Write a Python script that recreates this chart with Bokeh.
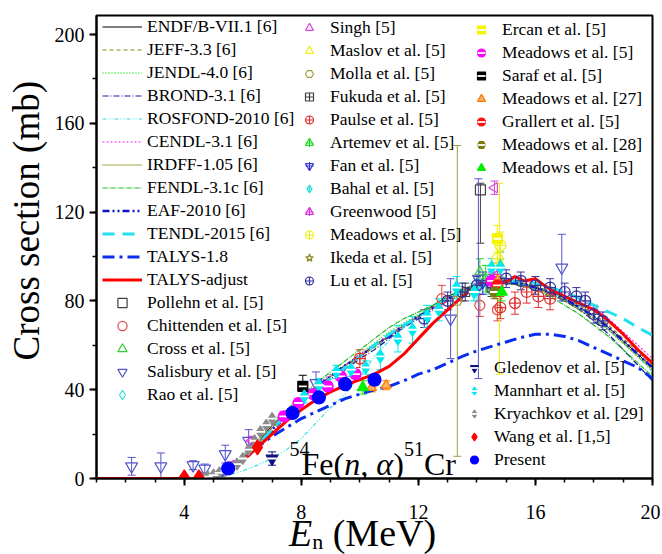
import math
from bokeh.plotting import figure
from bokeh.layouts import column
from bokeh.models import (Range1d, FixedTicker, Legend, LegendItem, Label, Title, Div,
                          Whisker, TeeHead, ColumnDataSource)
from bokeh.embed import file_html
from bokeh.resources import INLINE

FONT = "'Liberation Serif'"

# ---------------- evaluated / calculated excitation functions ----------------
E_eval = [4.4, 5.0, 5.5, 6.0, 6.5, 7.0, 7.5, 8.0, 8.5, 9.0, 9.5, 10.0, 10.5, 11.0, 11.5, 12.0,
          12.5, 13.0, 13.5, 14.0, 14.5, 15.0, 15.5, 16.0, 16.5, 17.0, 17.5, 18.0, 18.5, 19.0, 19.5, 20.0]
endf    = [0, 1.5, 4, 9, 16, 24, 30, 36, 41, 46, 51, 55, 60, 64, 69, 73, 78, 82, 85, 87, 89, 89, 88, 86, 84, 81, 77, 73, 68, 62, 56, 50]
jeff    = [0, 1.2, 3.5, 8.5, 15, 23, 29, 35, 41, 46, 50, 55, 59, 64, 69, 73, 77, 81, 85, 88, 89, 89, 88, 87, 84, 81, 78, 74, 69, 63, 57, 51]
jendl   = [0, 1, 3, 8, 15, 22, 29, 35, 41, 46, 51, 56, 61, 66, 70, 74, 78, 82, 85, 88, 89, 89, 88, 86, 83, 80, 76, 72, 67, 61, 55, 49]
brond   = [0, 1, 3.5, 8, 14, 21, 28, 34, 40, 45, 49, 54, 58, 63, 68, 72, 76, 80, 84, 86, 88, 88, 87, 86, 83, 80, 76, 71, 65, 58, 51, 44]
rosfond = [0, 0.5, 1.5, 3.5, 6, 9, 13, 18, 25, 32, 38, 46, 55, 62, 68, 73, 77, 81, 84, 87, 88, 88, 88, 86, 84, 81, 77, 73, 67, 61, 55, 48]
cendl   = [0, 1.5, 4, 9, 16, 23, 30, 36, 42, 47, 51, 56, 60, 65, 69, 73, 77, 81, 85, 88, 90, 90, 89, 88, 86, 84, 81, 77, 72, 66, 60, 54]
irdff   = [0, 1.3, 4, 9, 16, 23, 30, 36, 41, 46, 51, 55, 60, 64, 69, 73, 77, 81, 84, 87, 88, 88, 87, 85, 83, 80, 76, 72, 67, 61, 55, 49]
fendl   = [0, 1.5, 4.5, 10, 17, 25, 31, 37, 43, 48, 53, 58, 63, 68, 72, 75, 78, 82, 85, 87, 88, 88, 87, 85, 82, 78, 74, 69, 64, 58, 52, 46]
eaf     = [0, 1, 3.5, 8.5, 15, 22, 29, 35, 41, 46, 51, 55, 60, 64, 69, 73, 77, 81, 84, 87, 88, 88, 88, 86, 84, 81, 77, 73, 68, 62, 56, 50]
tendl   = [0, 1, 3.5, 8.5, 15, 22, 29, 35, 40, 45, 50, 55, 60, 65, 69, 73, 77, 81, 84, 86, 88, 89, 89, 88, 86, 84, 81, 78, 75, 72, 68, 64.5]

E_talys18 = [5.0, 5.5, 6.0, 6.5, 7.0, 7.5, 8.0, 8.5, 9.0, 9.5, 10.0, 10.5, 11.0, 11.5, 12.0, 12.5,
             13.0, 13.5, 14.0, 14.5, 15.0, 15.5, 16.0, 16.5, 17.0, 17.5, 18.0, 18.5, 19.0, 19.5, 20.0]
talys18   = [0, 2.5, 8, 14, 19, 23, 27, 30, 33, 36, 38, 40, 41.5, 44, 47, 49,
             52, 55, 57.5, 59.5, 61.5, 63.5, 65, 65, 64, 62, 59, 56, 53, 50, 45]

E_adj     = [1.0, 4.5, 5.0, 5.5, 6.0, 6.5, 7.0, 7.5, 8.0, 8.5, 9.0, 9.5, 10.0, 10.5, 11.0, 11.5, 12.0,
             12.5, 13.0, 13.5, 14.0, 14.3, 14.6, 15.0, 15.3, 15.6, 16.0, 16.3, 16.6, 17.0, 17.5, 18.0,
             18.5, 19.0, 19.5, 20.0]
talys_adj = [0, 0, 1, 3.5, 8, 14, 20, 26, 31, 35.5, 39, 42, 44.5, 47, 50.5, 56, 63,
             70, 76, 82, 87, 89, 90, 88.5, 91, 89, 90, 87, 84.5, 82, 79, 76,
             71, 65, 58, 52]

# ---------------- experimental data (E in MeV, sigma in mb, uncertainty in mb) ----------------
pollehn_E, pollehn_s, pollehn_lo, pollehn_hi = [14.12], [130], [24], [3]
chitt_E, chitt_s, chitt_err = [12.8, 14.1, 14.7], [81, 78, 76], [6, 5, 5]
cross_E, cross_s, cross_err = [14.1, 14.8], [93, 96], [6, 6]
salis_E = [2.2, 3.2, 4.3, 4.7, 5.4, 6.2, 8.5, 13.1, 14.05, 16.9]
salis_s = [5.5, 5.5, 6, 4.5, 11, 17, 43, 72, 90, 95]
salis_err = [4, 6, 2, 2, 4, 5, 5, 18, 45, 15]
rao_E, rao_s, rao_err = [14.4], [87], [4]
singh_E, singh_s, singh_err = [14.6], [131], [3]
maslov_E, maslov_s, maslov_err = [14.77], [90], [43]
molla_E, molla_s, molla_err = [13.33], [80], [70]
fukuda_E, fukuda_s, fukuda_err = [13.6, 14.5], [84, 86], [4, 4]
paulse_E = [10.0, 14.8, 15.3, 15.7, 16.1, 16.5]
paulse_s = [54, 77, 79, 84, 82, 81]
paulse_err = [4, 5, 5, 5, 5, 5]
artemev_E, artemev_s, artemev_err = [14.3], [90], [6]
fan_E, fan_s, fan_err = [14.2, 14.8], [88, 89], [5, 5]
bahal_E, bahal_s, bahal_err = [14.0], [85], [5]
greenwood_E, greenwood_s, greenwood_err = [5.6, 6.3, 14.7], [6, 17, 92], [1.5, 2, 5]
meadowsY_E, meadowsY_s, meadowsY_err = [14.7, 14.8], [99, 105], [8, 6]
ikeda_E, ikeda_s, ikeda_err = [14.6], [88], [4]
lu_E = [12.2, 13.0, 13.5, 14.0, 14.5, 15.0, 15.5, 16.0, 16.5, 17.0, 17.4, 17.7, 18.0, 18.3]
lu_s = [72, 80, 84, 87, 88, 90, 89, 87, 86, 84, 82, 80, 74, 71]
lu_err = [4, 4, 4, 4, 4, 4, 4, 4, 4, 4, 4, 4, 4, 4]
ercan_E, ercan_s, ercan_err = [14.7], [108], [6]
meadowsM_E = [7.4, 7.9, 8.4, 8.9, 9.35, 9.85, 14.5]
meadowsM_s = [28, 34, 38, 41.5, 46, 47, 89]
meadowsM_err = [2, 2, 2, 2, 2, 2, 4]
saraf_E, saraf_s, saraf_err = [8.05], [41.5], [5]
meadows27_E, meadows27_s, meadows27_err = [10.4, 10.9, 14.7], [41, 42, 89], [2, 2, 3]
grallert_E, grallert_s, grallert_err = [14.7], [87], [3]
meadows28_E, meadows28_s, meadows28_err = [14.6], [84], [3]
meadowsG_E, meadowsG_s, meadowsG_err = [10.1, 14.85], [41, 84], [3, 4]
gledenov_E, gledenov_s, gledenov_err = [7.0], [9], [3]
mannhart_E = [8.1, 8.6, 9.2, 9.7, 10.2, 10.7, 11.3, 11.8, 12.3, 12.7, 13.3, 13.9, 14.5, 14.8]
mannhart_s = [37, 42, 48, 49, 50, 55, 63, 67, 73, 76, 86, 84, 95, 95]
mannhart_err = [3, 3, 3, 3, 3, 6, 6, 6, 5, 5, 5, 4, 4, 4]
kry_E = [4.6, 4.8, 5.0, 5.2, 5.4, 5.6, 5.8, 6.0, 6.2, 6.4, 6.6, 6.8, 7.0]
kry_s = [0.3, 0.8, 1.5, 2.5, 3.5, 5, 6.5, 9, 13, 17, 21, 24, 27]
wang_E, wang_s = [4.0, 4.5, 6.5], [0.5, 0.5, 14]
present_E = [5.5, 7.7, 8.6, 9.5, 10.5]
present_s = [4.5, 29.5, 36.5, 42.5, 44.5]
present_err = [0.6, 1.5, 1.8, 2.0, 2.2]

x_ticks = [4, 8, 12, 16, 20]
y_ticks = [0, 40, 80, 120, 160, 200]

# ---------------- layout (page pixels; the page itself has no margin) ----------------
W, HF = 660, 522
DIV_TOP, DIV_H = 511, 43
FL, FR, FT, FB = 94, 652, 15, 478
Y_MAX = (FB - FT) / 2.22

p = figure(width=W, height=HF, output_backend="svg", toolbar_location=None,
           x_range=Range1d(1, 20), y_range=Range1d(0, Y_MAX),
           min_border_left=FL, min_border_right=W - FR,
           min_border_top=FT, min_border_bottom=HF - FB)
p.grid.visible = False
p.outline_line_color = "black"
p.outline_line_width = 2
p.background_fill_color = "white"
p.border_fill_color = "white"

p.xaxis.ticker = FixedTicker(ticks=x_ticks, minor_ticks=list(range(1, 21)))
p.yaxis.ticker = FixedTicker(ticks=y_ticks, minor_ticks=list(range(0, 201, 20)))
for ax in (p.xaxis[0], p.yaxis[0]):
    ax.axis_line_width = 2
    ax.major_tick_line_width = 2
    ax.minor_tick_line_width = 1.5
    ax.major_tick_out = 7
    ax.major_tick_in = 0
    ax.minor_tick_out = 4
    ax.minor_tick_in = 0
    ax.major_label_text_font = FONT
    ax.major_label_text_font_size = "20px"
    ax.major_label_text_color = "black"
p.xaxis[0].major_label_standoff = 19
p.yaxis[0].major_label_standoff = 5

p.add_layout(Title(text="Cross section (mb)", align="left", offset=118, standoff=8,
                   vertical_align="middle", text_font=FONT, text_font_size="37px",
                   text_font_style="normal", text_color="black"), "left")


def line(E, s, color, dash, width):
    return p.line(E, s, line_color=color, line_dash=dash, line_width=width)


def errbars(E, s, lo, hi, color):
    src = ColumnDataSource(dict(x=E, lower=[a - b for a, b in zip(s, lo)],
                                upper=[a + b for a, b in zip(s, hi)]))
    p.add_layout(Whisker(source=src, base="x", lower="lower", upper="upper", dimension="height",
                         line_color=color, line_width=1,
                         upper_head=TeeHead(size=8, line_color=color, line_width=1),
                         lower_head=TeeHead(size=8, line_color=color, line_width=1)))


def pts(E, s, marker, color, fill=None, size=10, angle=0.0, err=None, lo=None, hi=None,
        cross=False, split=False):
    if err is not None:
        errbars(E, s, err, err, color)
    elif lo is not None:
        errbars(E, s, lo, hi, color)
    rs = [p.scatter(E, s, marker=marker, size=size, angle=angle, line_color=color,
                    line_width=1.2, fill_color=fill if fill else "white",
                    fill_alpha=1.0 if fill else 0.0)]
    if cross:
        rs.append(p.scatter(E, s, marker="cross", size=size * 0.8, line_color=color, line_width=1))
    if split:
        rs.append(p.scatter(E, s, marker="dash", size=size * 0.8, line_color="white", line_width=1.8))
    return rs


# evaluated curves
r_endf = line(E_eval, endf, "black", "solid", 1)
r_jeff = line(E_eval, jeff, "#8a8a10", "4 3", 1.2)
r_jendl = line(E_eval, jendl, "#22ee22", "1 2", 1.6)
r_brond = line(E_eval, brond, "#1a1aa8", "6 2 1 2", 1.2)
r_rosf = line(E_eval, rosfond, "#33dddd", "4 2 1 2 1 2", 1.2)
r_cendl = line(E_eval, cendl, "#ff22ff", "2 2", 1.2)
r_irdff = line(E_eval, irdff, "#8a8a10", "1 1", 1.6)
r_fendl = line(E_eval, fendl, "#22bb22", "5 1 1 1", 1.2)
r_eaf = line(E_eval, eaf, "#1010cc", "7 3 2 3 2 3", 2.5)
r_tendl = line(E_eval, tendl, "#22e0ee", "12 8", 3)
r_t18 = line(E_talys18, talys18, "#0a2cf0", "12 5 3 5", 3)
r_adj = line(E_adj, talys_adj, "#ff0000", "solid", 3)

# experimental data
r_pollehn = pts(pollehn_E, pollehn_s, "square", "#404040", lo=pollehn_lo, hi=pollehn_hi)
r_chitt = pts(chitt_E, chitt_s, "circle", "#e04848", err=chitt_err)
r_cross = pts(cross_E, cross_s, "triangle", "#33cc33", err=cross_err)
r_salis = pts(salis_E, salis_s, "inverted_triangle", "#5555cc", size=12, err=salis_err)
r_rao = pts(rao_E, rao_s, "diamond", "#44dddd", size=12, err=rao_err)
r_singh = pts(singh_E, singh_s, "triangle", "#dd44dd", angle=math.pi / 2, err=singh_err)
r_maslov = pts(maslov_E, maslov_s, "triangle", "#eeee10", angle=-math.pi / 2, err=maslov_err)
r_molla = pts(molla_E, molla_s, "hex", "#a0a040", err=molla_err)
r_fukuda = pts(fukuda_E, fukuda_s, "square_cross", "#404040", size=9, err=fukuda_err)
r_paulse = pts(paulse_E, paulse_s, "circle_cross", "#e03030", size=11, err=paulse_err)
r_artemev = pts(artemev_E, artemev_s, "triangle", "#22dd22", err=artemev_err, cross=True)
r_fan = pts(fan_E, fan_s, "inverted_triangle", "#3333cc", err=fan_err, cross=True)
r_bahal = pts(bahal_E, bahal_s, "diamond_cross", "#33dddd", size=12, err=bahal_err)
r_green = pts(greenwood_E, greenwood_s, "triangle", "#dd33dd", angle=math.pi / 2, err=greenwood_err, cross=True)
r_meadY = pts(meadowsY_E, meadowsY_s, "circle_cross", "#eeee20", size=11, err=meadowsY_err)
r_ikeda = pts(ikeda_E, ikeda_s, "star", "#8a8a20", size=11, err=ikeda_err)
r_lu = pts(lu_E, lu_s, "circle_cross", "#333399", size=11, err=lu_err)
r_ercan = pts(ercan_E, ercan_s, "square", "#f5f500", fill="#f5f500", err=ercan_err, split=True)
r_meadM = pts(meadowsM_E, meadowsM_s, "circle", "#ff00ff", fill="#ff00ff", size=11, err=meadowsM_err, split=True)
r_saraf = pts(saraf_E, saraf_s, "square", "black", fill="black", err=saraf_err, split=True)
r_mead27 = pts(meadows27_E, meadows27_s, "triangle", "#ff7a00", fill="#ffb060", err=meadows27_err)
r_grall = pts(grallert_E, grallert_s, "circle", "#ff1010", fill="#ff1010", size=11, err=grallert_err, split=True)
r_mead28 = pts(meadows28_E, meadows28_s, "hex", "#7a7a10", fill="#7a7a10", size=11, err=meadows28_err, split=True)
r_meadG = pts(meadowsG_E, meadowsG_s, "triangle", "#00ee00", fill="#00ee00", size=11, err=meadowsG_err)
r_gled = pts(gledenov_E, gledenov_s, "inverted_triangle", "#101080", fill="#101080", size=12, err=gledenov_err, split=True)
r_mann = pts(mannhart_E, mannhart_s, "diamond", "#00e8f0", fill="#00e8f0", size=13, err=mannhart_err, split=True)
r_kry = pts(kry_E, kry_s, "diamond", "#8c8c8c", fill="#8c8c8c", size=12, split=True)
r_wang = pts(wang_E, wang_s, "diamond", "#ff0000", fill="#ff0000", size=15)
r_present = pts(present_E, present_s, "circle", "#0000ff", fill="#0000ff", size=13, err=present_err)


# ---------------- legends ----------------
ROW = 23


def make_legend(entries, first_center, glyph_left, glyph_w, standoff):
    n = len(entries)
    bottom = first_center - ROW / 2 + n * ROW
    items = [LegendItem(label=lab, renderers=rs if isinstance(rs, list) else [rs]) for lab, rs in entries]
    leg = Legend(items=items, location=(glyph_left - FL, FB - bottom), orientation="vertical",
                 spacing=0, padding=0, margin=0, glyph_width=glyph_w, glyph_height=ROW,
                 label_height=ROW, label_standoff=standoff, label_text_font=FONT,
                 label_text_font_size="17.5px", label_text_color="black",
                 label_text_baseline="middle", border_line_alpha=0, background_fill_alpha=0)
    p.add_layout(leg)


make_legend([
    ("ENDF/B-VII.1 [6]", r_endf), ("JEFF-3.3 [6]", r_jeff), ("JENDL-4.0 [6]", r_jendl),
    ("BROND-3.1 [6]", r_brond), ("ROSFOND-2010 [6]", r_rosf), ("CENDL-3.1 [6]", r_cendl),
    ("IRDFF-1.05 [6]", r_irdff), ("FENDL-3.1c [6]", r_fendl), ("EAF-2010 [6]", r_eaf),
    ("TENDL-2015 [6]", r_tendl), ("TALYS-1.8", r_t18), ("TALYS-adjust", r_adj),
    ("Pollehn et al. [5]", r_pollehn), ("Chittenden et al. [5]", r_chitt),
    ("Cross et al. [5]", r_cross), ("Salisbury et al. [5]", r_salis), ("Rao et al. [5]", r_rao),
], 26.5, 100, 40, 5)

make_legend([
    ("Singh [5]", r_singh), ("Maslov et al. [5]", r_maslov), ("Molla et al. [5]", r_molla),
    ("Fukuda et al. [5]", r_fukuda), ("Paulse et al. [5]", r_paulse), ("Artemev et al. [5]", r_artemev),
    ("Fan et al. [5]", r_fan), ("Bahal et al. [5]", r_bahal), ("Greenwood [5]", r_green),
    ("Meadows et al. [5]", r_meadY), ("Ikeda et al. [5]", r_ikeda), ("Lu et al. [5]", r_lu),
], 27, 297, 20, 11)

make_legend([
    ("Ercan et al. [5]", r_ercan), ("Meadows et al. [5]", r_meadM), ("Saraf et al. [5]", r_saraf),
    ("Meadows et al. [27]", r_mead27), ("Grallert et al. [5]", r_grall),
    ("Meadows et al. [28]", r_mead28), ("Meadows et al. [5]", r_meadG),
], 29, 469, 20, 11)

make_legend([
    ("Gledenov et al. [5]", r_gled), ("Mannhart et al. [5]", r_mann),
    ("Kryachkov et al. [29]", r_kry), ("Wang et al. [1,5]", r_wang), ("Present", r_present),
], 367, 462, 20, 10)


# ---------------- reaction label (screen units relative to the frame) ----------------
def lab(text, px, py, size, style="normal"):
    p.add_layout(Label(x=px - FL, y=FB - py, x_units="screen", y_units="screen", text=text,
                       text_font=FONT, text_font_size=size, text_font_style=style,
                       text_align="left", text_baseline="alphabetic", text_color="black"))


lab("54", 287, 448, "20px")
lab("Fe(", 299, 463, "32px")
lab("n, \u03b1", 341.7, 463, "32px", style="italic")
lab(")", 390.7, 463, "32px")
lab("51", 401.4, 448, "20px")
lab("Cr", 421.4, 463, "32px")

# x-axis title with italic E and subscript n (HTML block just under the figure)
xlabel_html = ("<div style=\"position:relative;left:289px;top:3px;white-space:nowrap;"
               "font-family:'Liberation Serif',serif;font-size:38px;line-height:38px;color:black\">"
               "<i>E</i><span style=\"font-size:22px;position:relative;top:3px\">n</span> (MeV)</div>")
xdiv = Div(text=xlabel_html, width=W, height=DIV_H, margin=(DIV_TOP - HF, 0, 0, 0),
           styles={"overflow": "visible"})

open("out.html", "w").write(file_html(column(p, xdiv), INLINE))
